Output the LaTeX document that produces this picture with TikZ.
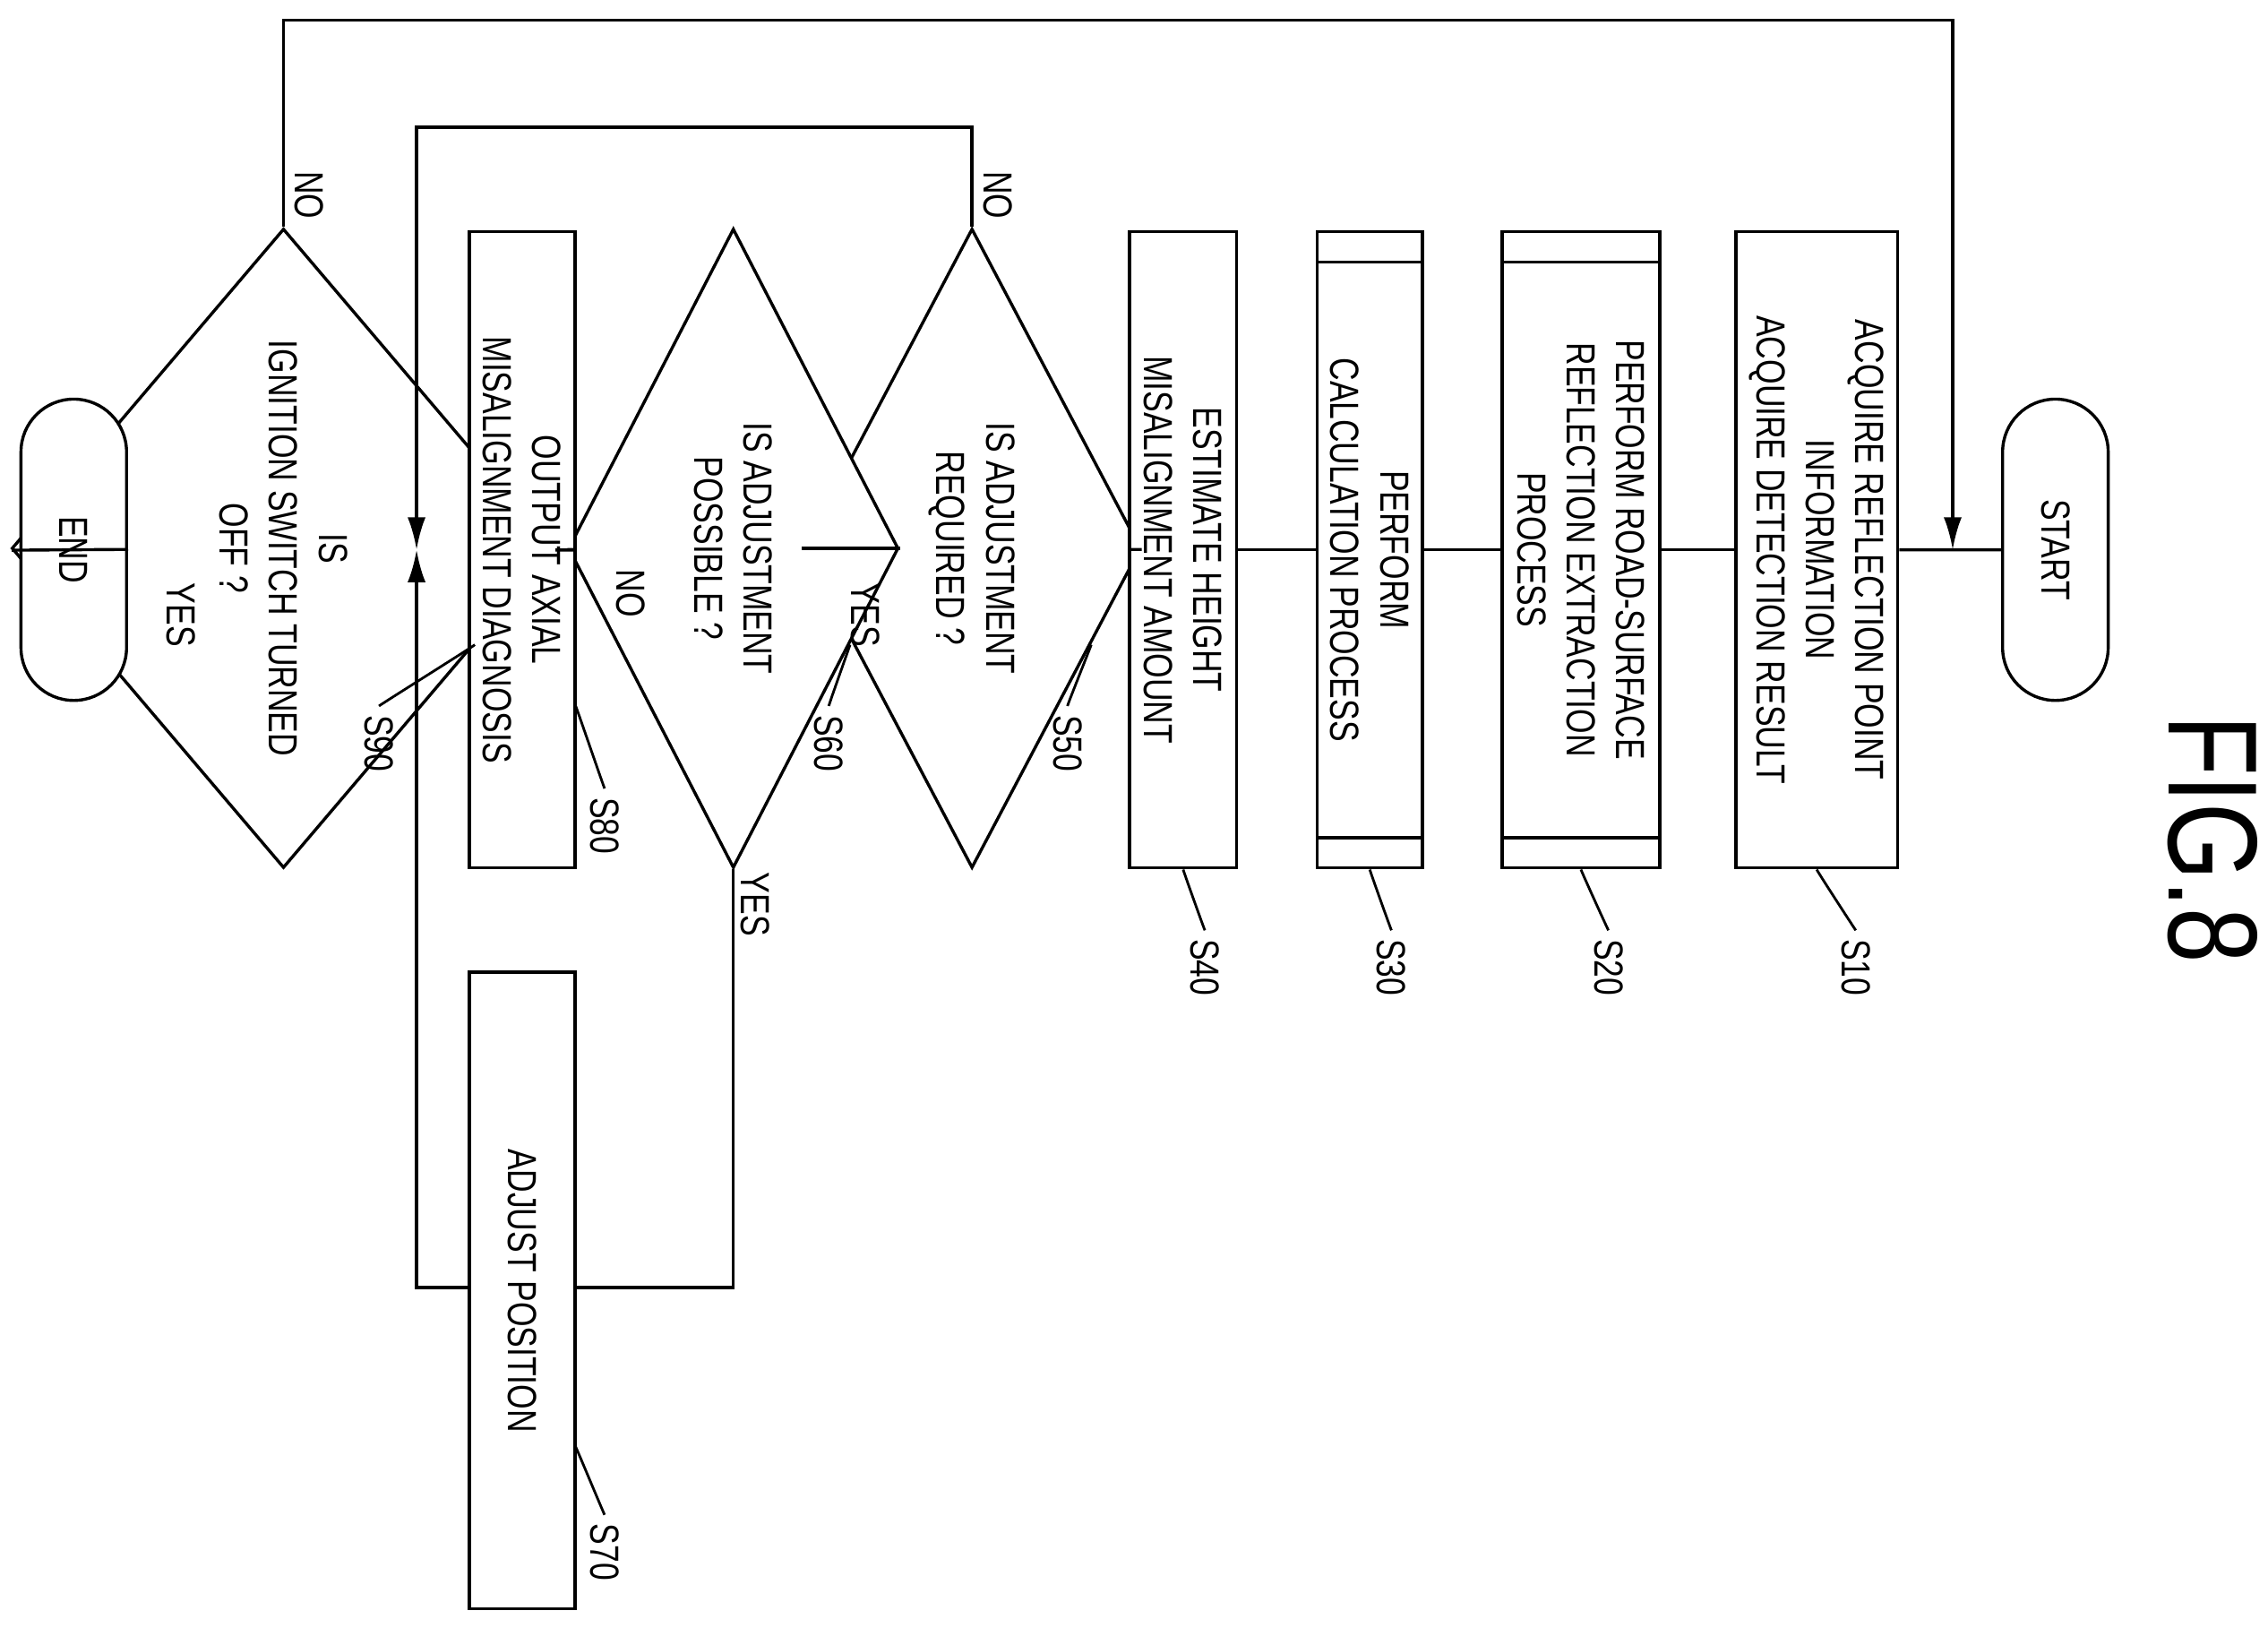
\documentclass[tikz,border=0pt]{standalone}
\usepackage{fontspec}
\setsansfont{Liberation Sans}[FakeStretch=0.78]
\usetikzlibrary{shapes.geometric,shapes.misc,arrows.meta,calc}
\tikzset{
  txt/.style={font=\sffamily\fontsize{16}{19.5}\selectfont, align=center, rotate=-90},
  box/.style={txt, draw, line width=1.2pt, fill=white, inner sep=0pt, minimum width=8.8cm},
  test/.style={txt, draw, line width=1.2pt, fill=white, diamond, inner sep=0pt, minimum width=8.84cm, minimum height=2.2cm},
  term/.style={txt, draw, line width=1.2pt, fill=white, rounded rectangle, minimum width=4.4cm, minimum height=1.46cm},
  tag/.style={txt, anchor=west},
  lead/.style={line width=1pt},
  flow/.style={line width=1.2pt},
  tip/.style={flow, -{Latex[length=0.45cm,width=0.25cm]}}
}
\begin{document}
\begin{tikzpicture}[x=0.02cm,y=0.02cm]
\useasboundingbox (0,0) rectangle (1568,1125);
% loop lines first
\coordinate (join) at (288,745);
\node[test] (s50) at (672,746) {IS ADJUSTMENT\\REQUIRED ?};
\node[test] (s60) at (507,746) {IS ADJUSTMENT\\POSSIBLE ?};
\node[test] (s90) at (196,746) {IS\\IGNITION SWITCH TURNED\\OFF ?};
\draw[tip] (s50.west) |- (288,1037) -- (join);
\draw[tip] (s60.east) |- (288,235) -- (join);
\draw[tip] (s90.west) |- (1350,1111) -- (1350,745);
% steps
\node[term] (start) at (1421,745) {START};
\node[box, minimum height=2.24cm] (s10) at (1256,745) {ACQUIRE REFLECTION POINT\\INFORMATION\\ACQUIRE DETECTION RESULT};
\node[box, minimum height=2.18cm] (s20) at (1093,745) {PERFORM ROAD-SURFACE\\REFLECTION EXTRACTION\\PROCESS};
\node[box, minimum height=1.46cm] (s30) at (947,745) {PERFORM\\CALCULATION PROCESS};
\node[box, minimum height=1.48cm] (s40) at (818,745) {ESTIMATE HEIGHT\\MISALIGNMENT AMOUNT};
\node[box, minimum height=1.46cm] (s80) at (361,745) {OUTPUT AXIAL\\MISALIGNMENT DIAGNOSIS};
\node[box, minimum height=1.46cm] (s70) at (361,233) {ADJUST POSITION};
\node[term] (end) at (51,745) {END};
% predefined process bars
\foreach \n in {s20,s30}{
  \draw[flow] ([yshift=-0.44cm]\n.north west) -- ([yshift=-0.44cm]\n.south west);
  \draw[flow] ([yshift=0.44cm]\n.north east) -- ([yshift=0.44cm]\n.south east);
}
% main flow
\draw[flow] (start) -- (s10);
\draw[flow] (s10) -- (s20);
\draw[flow] (s20) -- (s30);
\draw[flow] (s30) -- (s40);
\draw[flow] (s40) -- (s50);
\draw[flow] (s50) -- (s60);
\draw[flow] (s60) -- (s80);
\draw[flow] (s80) -- (s90);
\draw[flow] (s90) -- (end);
% branch labels
\node[txt] at (214,990) {NO};
\node[txt] at (125,700) {YES};
\node[txt] at (690,990) {NO};
\node[txt] at (598,700) {YES};
\node[txt] at (436,715) {NO};
\node[txt] at (522,500) {YES};
% step tags
\foreach \n/\x/\t in {s10/1283/S10,s20/1112/S20,s30/962/S30,s40/833/S40}{
  \node[tag] (l\n) at (\x,482) {\t};
  \draw[lead] (\n.east) .. controls +(0,-0.6) and +(-0.3,0.2) .. (l\n.west);
}
\foreach \n/\x/\t in {s50/738/S50,s60/573/S60,s90/262/S90}{
  \node[tag] (l\n) at (\x,637) {\t};
  \draw[lead] ($(\n.north)!0.3!(\n.east)$) .. controls +(0,-0.5) and +(-0.3,0.2) .. (l\n.west);
}
\node[tag] (ls80) at (418,580) {S80};
\draw[lead] (398,637) .. controls +(0.4,-0.5) and +(-0.3,0.2) .. (ls80.west);
\node[tag] (ls70) at (418,78) {S70};
\draw[lead] (398,125) .. controls +(0.4,-0.5) and +(-0.3,0.2) .. (ls70.west);
\node[txt, font=\sffamily\fontsize{50}{60}\selectfont] (fig) at (1530,545) {FIG.8};
\end{tikzpicture}
\end{document}
